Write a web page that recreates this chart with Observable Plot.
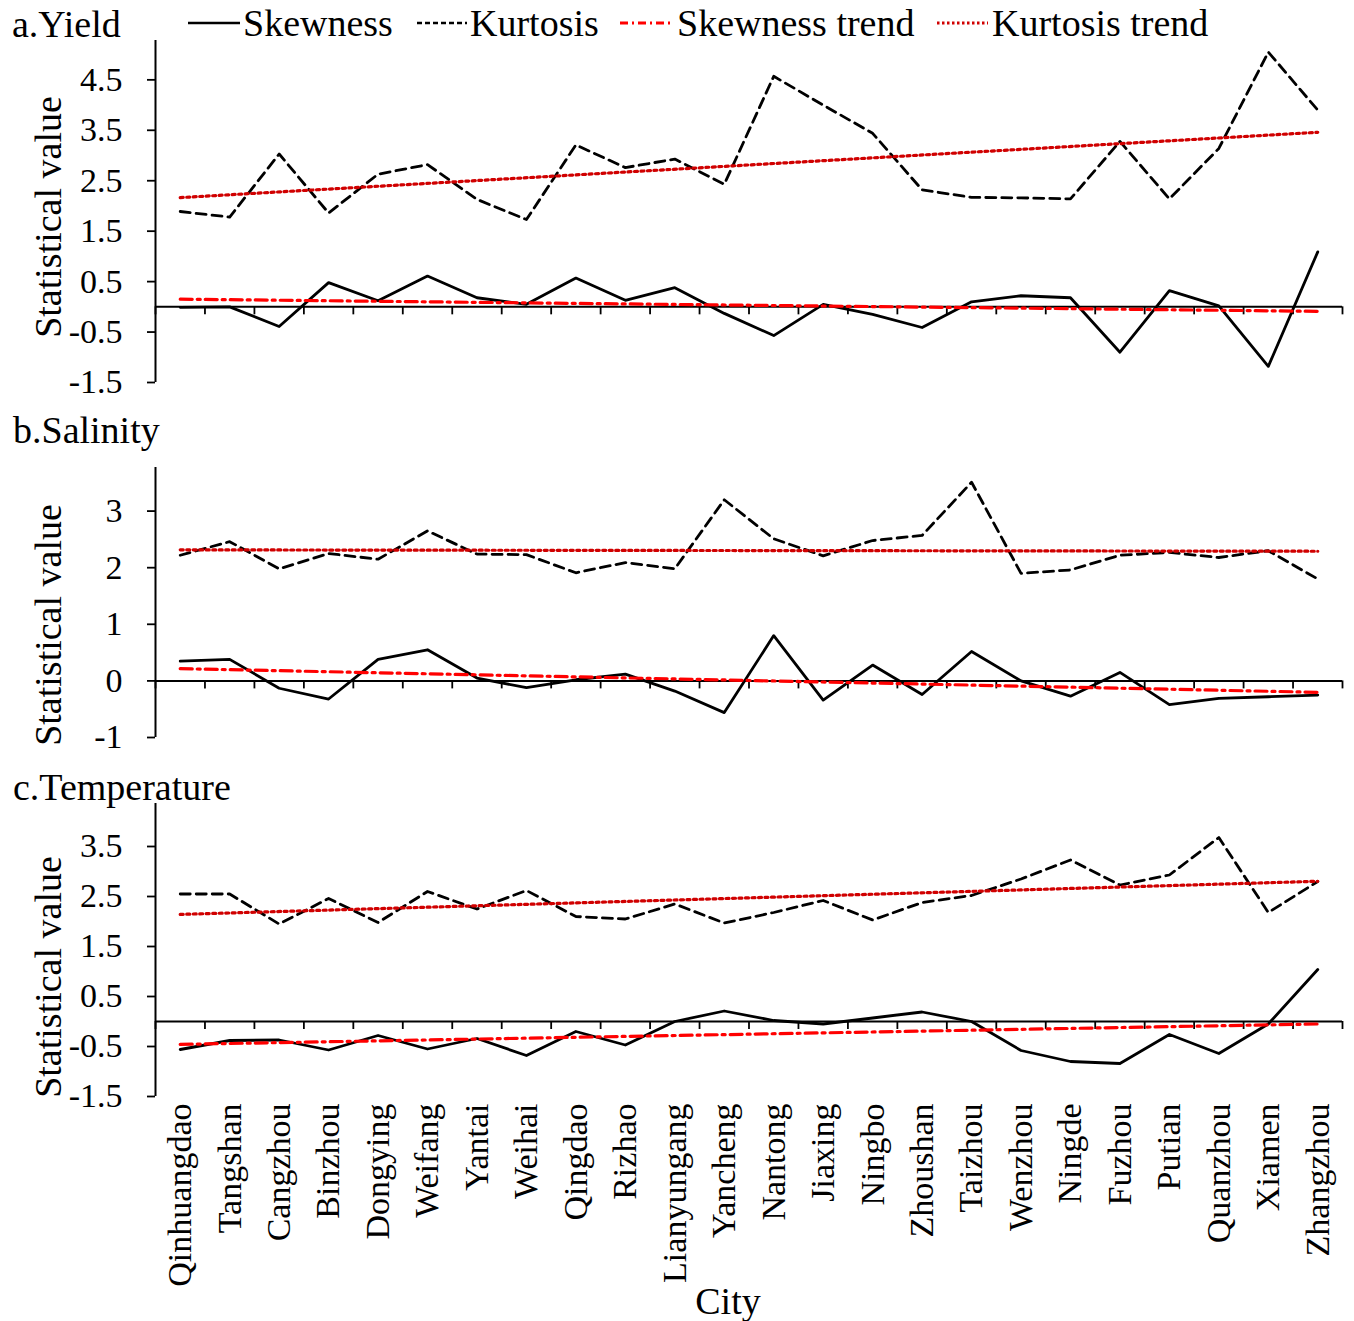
<!DOCTYPE html>
<html><head><meta charset="utf-8">
<script src="https://cdn.jsdelivr.net/npm/d3@7"></script>
<script src="https://cdn.jsdelivr.net/npm/@observablehq/plot@0.6"></script>
<style>
body{margin:0;background:#fff;}
#root{position:relative;width:1354px;height:1321px;font-family:"Liberation Serif","Times New Roman",serif;color:#000;overflow:hidden;background:#fff}
.abs{position:absolute;white-space:nowrap;line-height:1}
.ttl{font-size:38px}
.ylab{font-size:38px;transform:translate(-50%,-50%) rotate(-90deg)}
</style></head><body><div id="root"></div>
<script>
const cities = ["Qinhuangdao","Tangshan","Cangzhou","Binzhou","Dongying","Weifang","Yantai","Weihai","Qingdao","Rizhao","Lianyungang","Yancheng","Nantong","Jiaxing","Ningbo","Zhoushan","Taizhou","Wenzhou","Ningde","Fuzhou","Putian","Quanzhou","Xiamen","Zhangzhou"];

const yieldSkew = [-0.01,0.0,-0.39,0.48,0.12,0.61,0.18,0.05,0.57,0.13,0.38,-0.13,-0.57,0.05,-0.15,-0.41,0.10,0.22,0.18,-0.90,0.32,0.02,-1.18,1.09];
const yieldKurt = [1.89,1.78,3.03,1.86,2.63,2.82,2.13,1.73,3.21,2.76,2.93,2.43,4.57,4.00,3.44,2.32,2.17,2.16,2.14,3.28,2.14,3.14,5.05,3.90];

const salSkew = [0.35,0.38,-0.13,-0.32,0.38,0.55,0.05,-0.12,0.02,0.12,-0.18,-0.56,0.80,-0.34,0.28,-0.24,0.52,0.00,-0.27,0.15,-0.42,-0.31,-0.28,-0.25];
const salKurt = [2.22,2.46,1.98,2.25,2.15,2.65,2.24,2.23,1.91,2.09,1.98,3.20,2.51,2.21,2.48,2.57,3.51,1.90,1.96,2.22,2.27,2.18,2.30,1.80];

const tempSkew = [-0.56,-0.38,-0.37,-0.57,-0.28,-0.55,-0.34,-0.68,-0.20,-0.47,0.00,0.21,0.02,-0.05,0.07,0.19,0.00,-0.58,-0.80,-0.84,-0.26,-0.64,-0.05,1.04];
const tempKurt = [2.55,2.55,1.95,2.46,1.98,2.60,2.25,2.62,2.10,2.05,2.35,1.97,2.18,2.42,2.03,2.38,2.52,2.85,3.23,2.73,2.93,3.68,2.18,2.80];

const yieldTicks = [-1.5,-0.5,0.5,1.5,2.5,3.5,4.5];
const salTicks = [-1,0,1,2,3];
const tempTicks = [-1.5,-0.5,0.5,1.5,2.5,3.5];

const root = document.getElementById("root");
const boundaries = d3.range(0.5, cities.length + 1, 1);

function panel(skew, kurt, cfg) {
  const rows = cities.map((c, k) => ({i: k + 1, city: c, skew: skew[k], kurt: kurt[k]}));
  const marks = [
    Plot.ruleY([0], {stroke: "black", strokeWidth: 2}),
    Plot.ruleX(boundaries, {x: d => d, y1: 0, y2: 0, insetBottom: -8, stroke: "black", strokeWidth: 1.8}),
    Plot.ruleX([0.5], {stroke: "black", strokeWidth: 2}),
    Plot.axisY({ticks: cfg.ticks, tickSize: 8, tickPadding: 25, tickFormat: d => String(d), label: null, strokeWidth: 1.8}),
    Plot.lineY(rows, {x: "i", y: "kurt", stroke: "black", strokeWidth: 2.8, strokeDasharray: "10,6"}),
    Plot.lineY(rows, {x: "i", y: "skew", stroke: "black", strokeWidth: 2.8}),
    Plot.linearRegressionY(rows, {x: "i", y: "skew", stroke: "#ff0000", strokeWidth: 3.2, strokeDasharray: "12,5,3,5", ci: 0}),
    Plot.linearRegressionY(rows, {x: "i", y: "kurt", stroke: "#d00000", strokeWidth: 3.2, strokeDasharray: "3,3.5", ci: 0})
  ];
  if (cfg.cityAxis) {
    marks.push(Plot.axisX({ticks: d3.range(1, cities.length + 1), tickFormat: i => cities[i - 1], tickRotate: -90, tickSize: 0, tickPadding: 7, anchor: "bottom", label: null}));
  }
  const svg = Plot.plot({
    width: 1354,
    height: cfg.height,
    marginLeft: 155,
    marginRight: 12,
    marginTop: cfg.mt,
    marginBottom: cfg.mb,
    x: {type: "linear", domain: [0.5, cities.length + 0.5], axis: null},
    y: {type: "linear", domain: cfg.domain, axis: null},
    style: {fontFamily: '"Liberation Serif","Times New Roman",serif', fontSize: "34px", overflow: "visible", background: "transparent", color: "black"},
    marks
  });
  svg.style.position = "absolute";
  svg.style.left = "0px";
  svg.style.top = cfg.top + "px";
  root.appendChild(svg);
}

panel(yieldSkew, yieldKurt, {top: 0, height: 395, mt: 40, mb: 13, domain: [-1.5, 5.28], ticks: yieldTicks});
panel(salSkew, salKurt, {top: 400, height: 347, mt: 67, mb: 10, domain: [-1, 3.77], ticks: salTicks});
panel(tempSkew, tempKurt, {top: 750, height: 571, mt: 53, mb: 225, domain: [-1.5, 4.36], ticks: tempTicks, cityAxis: true});

function addText(txt, cls, left, top) {
  const d = document.createElement("div");
  d.className = "abs " + cls;
  d.textContent = txt;
  d.style.left = left + "px";
  d.style.top = top + "px";
  root.appendChild(d);
  return d;
}
addText("a.Yield", "ttl", 12, 5);
addText("b.Salinity", "ttl", 13, 411);
addText("c.Temperature", "ttl", 13, 768);
addText("Statistical value", "ylab", 48, 217);
addText("Statistical value", "ylab", 48, 625);
addText("Statistical value", "ylab", 48, 977);
const city = addText("City", "ttl", 728, 1282);
city.style.transform = "translateX(-50%)";

// legend
const legendItems = [
  {label: "Skewness", x1: 188, x2: 240, tx: 243, stroke: "black", dash: null, w: 2.5},
  {label: "Kurtosis", x1: 417, x2: 467, tx: 470, stroke: "black", dash: "5,3", w: 2.5},
  {label: "Skewness trend", x1: 620, x2: 672, tx: 677, stroke: "#ff0000", dash: "8,4,2,4", w: 3},
  {label: "Kurtosis trend", x1: 937, x2: 988, tx: 992, stroke: "#d00000", dash: "2.5,2.5", w: 3}
];
const lg = d3.create("svg").attr("width", 1354).attr("height", 50)
  .style("position", "absolute").style("left", "0px").style("top", "0px")
  .style("font-family", '"Liberation Serif","Times New Roman",serif');
for (const it of legendItems) {
  const l = lg.append("line").attr("x1", it.x1).attr("x2", it.x2).attr("y1", 23).attr("y2", 23)
    .attr("stroke", it.stroke).attr("stroke-width", it.w);
  if (it.dash) l.attr("stroke-dasharray", it.dash);
  lg.append("text").attr("x", it.tx).attr("y", 36).attr("font-size", 38).text(it.label);
}
root.appendChild(lg.node());
</script>
</body></html>
